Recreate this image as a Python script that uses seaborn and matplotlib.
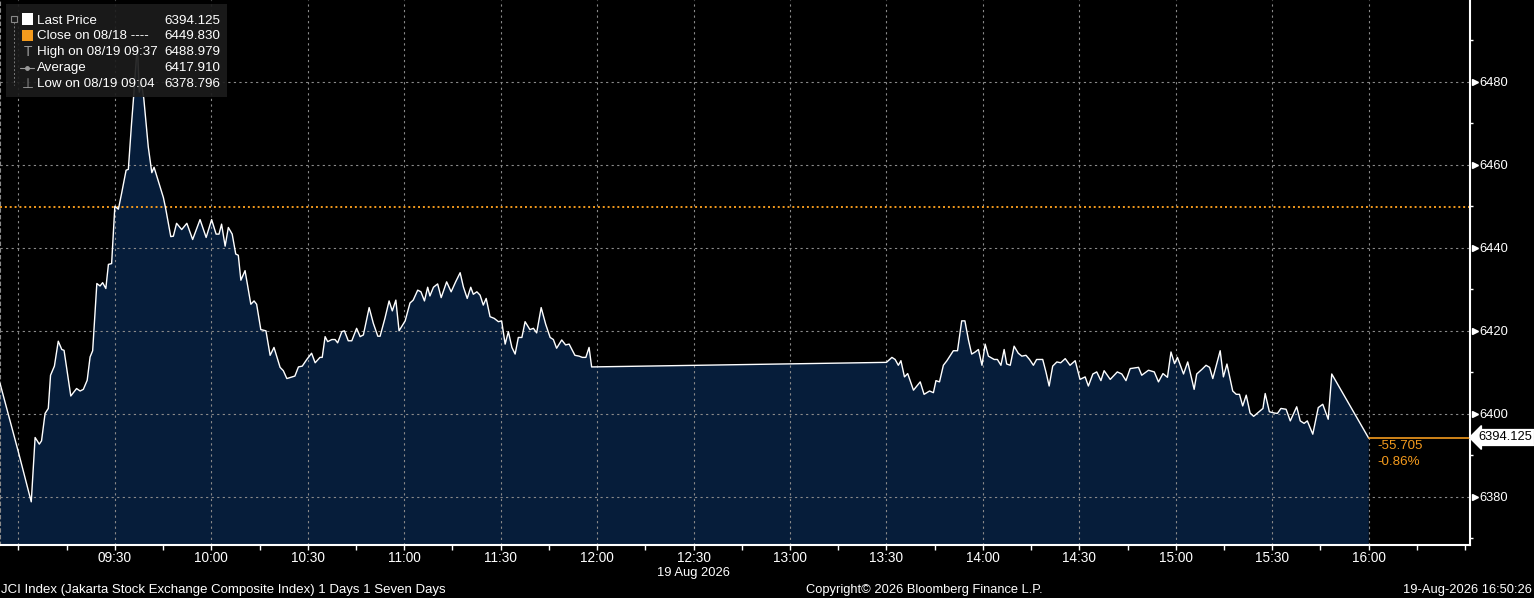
import matplotlib
matplotlib.use("Agg")
import matplotlib.pyplot as plt
import matplotlib.transforms as mtransforms
from matplotlib.ticker import FixedLocator, MultipleLocator, FuncFormatter
import seaborn as sns
import pandas as pd

# ---- data: minutes after 09:00 and last price ----
minutes = [-5.7, 0.0, 4.0, 5.2, 6.5, 7.2, 8.3, 9.3, 10.0, 11.2, 12.4, 13.5, 14.2, 16.3, 18.1,
           19.2, 20.2, 21.4, 22.3, 23.1, 24.4, 25.4, 26.2, 27.2, 28.0, 29.0, 30.0, 31.1, 32.1,
           33.5, 34.2, 35.2, 35.8, 37.0, 37.6, 38.2, 39.0, 40.4, 41.5, 42.2, 45.1, 45.8, 47.4,
           48.2, 49.2, 50.8, 52.4, 54.2, 56.5, 58.4, 60.1, 61.5, 62.4, 63.2, 64.3, 65.3, 66.5,
           67.6, 68.4, 69.2, 70.5, 72.3, 73.3, 74.1, 75.4, 77.0, 78.3, 79.5, 81.4, 82.4, 83.5,
           86.0, 87.1, 88.3, 89.7, 91.2, 92.3, 93.8, 94.5, 95.4, 96.2, 97.5, 98.5, 99.3, 100.6,
           101.4, 102.6, 103.7, 105.2, 106.3, 107.3, 109.1, 110.4, 111.8, 112.5, 114.0, 115.3,
           116.3, 117.4, 118.4, 120.3, 121.8, 122.8, 124.2, 125.2, 126.3, 127.3, 128.0, 129.1,
           130.4, 131.5, 133.2, 134.6, 136.0, 137.4, 138.4, 139.6, 140.7, 141.5, 142.6, 143.6,
           144.6, 145.5, 146.7, 148.0, 149.3, 150.3, 151.4, 152.4, 153.5, 154.5, 155.5, 156.6,
           157.6, 159.1, 160.2, 161.2, 162.6, 164.0, 165.4, 166.4, 167.4, 169.0, 170.2, 171.3,
           173.1, 174.4, 175.4, 176.5, 177.5, 178.3,
           270.0, 271.7, 272.7, 273.7, 274.5, 275.6, 276.6, 278.4, 280.5, 281.7, 283.4, 284.6,
           285.4, 286.5, 287.7, 288.8, 290.8, 292.1, 293.4, 294.4, 295.5, 296.5, 297.6, 298.6,
           299.7, 300.7, 301.7, 303.5, 304.5, 305.6, 306.6, 307.4, 308.5, 309.7, 311.0, 312.1,
           313.4, 314.5, 315.7, 316.7, 318.6, 319.6, 320.6, 321.7, 323.0, 324.2, 325.6, 327.1,
           328.7, 330.2, 331.8, 332.8, 334.2, 335.4, 336.7, 337.7, 339.6, 341.8, 343.2, 344.5,
           345.8, 348.4, 349.4, 351.5, 353.3, 354.6, 356.0, 357.4, 358.5, 359.6, 360.5, 362.4,
           363.7, 365.7, 366.5, 368.1, 369.4, 370.5, 371.5, 373.8, 374.8, 375.9, 377.7, 378.8,
           379.8, 380.8, 381.9, 383.1, 384.2, 386.2, 387.1, 387.8, 389.1, 390.6, 391.6, 392.7,
           394.3, 395.6, 397.6, 398.7, 399.9, 400.9, 402.6, 404.3, 405.7, 407.4, 408.5, 420.0]
prices = [6407.3, 6390.8, 6378.8, 6394.3, 6392.7, 6393.5, 6400.1, 6401.3, 6409.3, 6411.5, 6417.5,
          6415.5, 6415.3, 6404.3, 6406.1, 6405.5, 6405.9, 6408.1, 6413.7, 6415.2, 6431.4, 6430.8,
          6431.6, 6430.2, 6436.0, 6436.2, 6450.0, 6449.3, 6453.1, 6458.7, 6458.9, 6470.0, 6476.0,
          6489.0, 6477.5, 6480.0, 6476.0, 6464.3, 6458.1, 6459.4, 6452.1, 6449.5, 6442.7, 6442.8,
          6445.9, 6444.4, 6445.9, 6442.0, 6446.8, 6442.5, 6446.8, 6443.3, 6443.3, 6445.7, 6440.4,
          6444.9, 6443.3, 6438.5, 6438.2, 6432.2, 6434.5, 6426.4, 6427.2, 6426.4, 6420.3, 6420.0,
          6414.1, 6416.0, 6411.2, 6410.4, 6408.5, 6409.1, 6411.3, 6411.5, 6413.1, 6414.6, 6412.3,
          6413.6, 6413.6, 6418.6, 6417.4, 6417.9, 6417.9, 6417.1, 6419.8, 6420.0, 6417.6, 6417.6,
          6420.6, 6418.6, 6419.0, 6425.6, 6421.8, 6418.7, 6418.7, 6423.0, 6427.2, 6424.8, 6427.4,
          6420.0, 6422.4, 6426.7, 6427.4, 6429.8, 6429.4, 6427.2, 6430.5, 6428.4, 6430.5, 6431.3,
          6428.0, 6431.8, 6429.4, 6431.8, 6434.0, 6430.6, 6427.8, 6430.5, 6428.8, 6429.4, 6428.6,
          6426.2, 6427.8, 6423.4, 6423.0, 6422.2, 6422.4, 6416.8, 6419.8, 6416.0, 6414.4, 6418.4,
          6418.4, 6422.2, 6420.3, 6420.6, 6419.5, 6425.6, 6421.6, 6418.4, 6417.9, 6415.8, 6417.8,
          6416.6, 6416.8, 6414.1, 6413.9, 6413.6, 6413.6, 6416.0, 6411.3,
          6412.4, 6413.6, 6413.1, 6411.7, 6412.8, 6408.9, 6409.7, 6405.7, 6407.7, 6404.7, 6405.5,
          6405.1, 6408.0, 6407.7, 6411.7, 6412.8, 6415.2, 6415.2, 6422.4, 6422.4, 6417.8, 6414.4,
          6414.9, 6415.5, 6411.7, 6416.8, 6413.9, 6413.1, 6413.1, 6411.7, 6415.5, 6412.0, 6411.7,
          6416.3, 6414.6, 6413.9, 6414.1, 6413.1, 6411.7, 6413.1, 6413.1, 6410.1, 6406.7, 6411.5,
          6412.5, 6412.3, 6413.3, 6411.7, 6412.8, 6408.3, 6408.9, 6406.7, 6409.6, 6410.1, 6408.0,
          6410.4, 6408.3, 6410.1, 6409.6, 6408.0, 6410.9, 6411.2, 6409.3, 6410.5, 6410.1, 6407.7,
          6409.7, 6408.8, 6414.9, 6412.1, 6413.6, 6409.6, 6412.5, 6405.9, 6409.6, 6410.7, 6411.7,
          6411.2, 6408.5, 6415.2, 6408.9, 6412.0, 6405.5, 6404.7, 6404.7, 6401.9, 6404.5, 6400.2,
          6399.4, 6400.7, 6401.3, 6404.9, 6400.5, 6400.2, 6400.1, 6401.3, 6401.1, 6398.3, 6401.7,
          6398.3, 6397.7, 6398.3, 6395.1, 6401.5, 6402.3, 6398.7, 6409.6, 6394.125]

prev_close = 6449.830
last_price = 6394.125
net_change = "-55.705"
pct_change = "-0.86%"

x_tick_minutes = [0, 30, 60, 90, 120, 150, 180, 210, 240, 270, 300, 330, 360, 390, 420]
x_tick_labels = ["", "09:30", "10:00", "10:30", "11:00", "11:30", "12:00", "12:30",
                 "13:00", "13:30", "14:00", "14:30", "15:00", "15:30", "16:00"]
y_major = [6380, 6400, 6420, 6440, 6460, 6480]
y_minor = [6370, 6390, 6410, 6430, 6450, 6470, 6490]

legend_names = ["Last Price", "Close on 08/18 ----", "High on 08/19 09:37", "Average",
                "Low on 08/19 09:04"]
legend_values = ["6394.125", "6449.830", "6488.979", "6417.910", "6378.796"]

footer_left = "JCI Index (Jakarta Stock Exchange Composite Index) 1 Days 1 Seven Days"
footer_mid = "Copyright\u00a9 2026 Bloomberg Finance L.P."
footer_right = "19-Aug-2026 16:50:26"
date_label = "19 Aug 2026"

df = pd.DataFrame({"minute": minutes, "price": prices})

# ---- style ----
sns.set_theme(style="dark")
FONT = ["Liberation Sans", "DejaVu Sans"]
plt.rcParams["font.family"] = FONT
plt.rcParams["axes.facecolor"] = "black"
plt.rcParams["figure.facecolor"] = "black"

W, H = 1534, 598
fig = plt.figure(figsize=(W / 100, H / 100), dpi=100)
ax = fig.add_axes([0, (H - 545) / H, 1470 / W, 545 / H])
ax.set_facecolor("black")

FILL = "#061d3a"
ORANGE = "#f39a1d"
GRID = "#8a8a8a"

ax.fill_between(df["minute"], df["price"], 6300, color=FILL, lw=0, zorder=1)
sns.lineplot(data=df, x="minute", y="price", ax=ax, color="white", lw=1.0,
             zorder=3, legend=False)

ax.set_xlim(-5.72, 451.5)
ax.set_ylim(6368.4, 6499.7)

# grid
for m in x_tick_minutes:
    ax.axvline(m, color=GRID, lw=0.8, ls=(0, (2, 3)), zorder=2)
for v in y_major:
    ax.axhline(v, color=GRID, lw=0.8, ls=(0, (2, 3)), zorder=2)
ax.axhline(prev_close, color=ORANGE, lw=1.4, ls=(0, (1, 1.5)), zorder=2)
ax.plot([420, 451.5], [last_price, last_price], color=ORANGE, lw=1.2, zorder=4, clip_on=False)

# spines
ax.spines["top"].set_visible(False)
ax.spines["left"].set_color(GRID)
ax.spines["left"].set_linestyle((0, (3, 3)))
ax.spines["left"].set_linewidth(0.8)
ax.spines["right"].set_color("white")
ax.spines["right"].set_linewidth(1.5)
ax.spines["bottom"].set_color("white")
ax.spines["bottom"].set_linewidth(1.5)

# x ticks
ax.xaxis.set_major_locator(FixedLocator(x_tick_minutes))
ax.xaxis.set_minor_locator(MultipleLocator(15))
ax.set_xticklabels(x_tick_labels)
ax.tick_params(axis="x", which="both", colors="white", direction="out", length=3.5, width=1,
               labelsize=9.8, pad=1, bottom=True)
ax.set_xlabel("")

# y ticks on right
ax.yaxis.tick_right()
ax.yaxis.set_major_locator(FixedLocator(y_major))
ax.yaxis.set_minor_locator(FixedLocator(y_minor))
ax.yaxis.set_major_formatter(FuncFormatter(lambda v, p: f"{v:.0f}"))
ax.tick_params(axis="y", which="major", colors="white", length=0, labelsize=9.3, pad=7,
               right=True, left=False)
ax.tick_params(axis="y", which="minor", colors="white", length=2.5, width=1, right=True,
               left=False, direction="out")
ax.set_ylabel("")
trans = mtransforms.blended_transform_factory(ax.transAxes, ax.transData)
ax.plot([1.0035] * len(y_major), y_major, ls="none", marker=">", ms=5, color="white",
        transform=trans, clip_on=False, zorder=5)

# last price tag and change annotations
fig.text(1478 / W, 1 - 437.5 / H, f"{last_price:.3f}", color="black", fontsize=9.3,
         va="center", ha="left",
         bbox=dict(boxstyle="larrow,pad=0.15", fc="white", ec="white"))
fig.text(1377 / W, 1 - 446 / H, net_change, color=ORANGE, fontsize=9.6, va="center", ha="left")
fig.text(1377 / W, 1 - 462 / H, pct_change, color=ORANGE, fontsize=9.6, va="center", ha="left")

# legend box
fig.patches.append(plt.Rectangle((6 / W, 1 - 97 / H), 221 / W, 93 / H,
                                 transform=fig.transFigure, fc="#1c1c1c", ec="none",
                                 alpha=0.92, zorder=10))
rows_y = [20.5, 36, 52, 68, 84]
for i, (nm, val) in enumerate(zip(legend_names, legend_values)):
    yy = 1 - rows_y[i] / H
    fig.text(37 / W, yy, nm, color="white", fontsize=9.6, va="center", ha="left", zorder=11)
    fig.text(220 / W, yy, val, color="white", fontsize=9.6, va="center", ha="right", zorder=11)
fig.patches.append(plt.Rectangle((22 / W, 1 - 25 / H), 11 / W, 11.5 / H,
                                 transform=fig.transFigure, fc="white", ec="none", zorder=11))
fig.patches.append(plt.Rectangle((22 / W, 1 - 41 / H), 11 / W, 11 / H,
                                 transform=fig.transFigure, fc=ORANGE, ec="none", zorder=11))
fig.text(28 / W, 1 - 52 / H, "T", color="#9a9a9a", fontsize=10, va="center", ha="center",
         zorder=11)
fig.lines.append(plt.Line2D([20 / W, 34 / W], [1 - 68 / H, 1 - 68 / H], color="#9a9a9a",
                            lw=0.8, transform=fig.transFigure, zorder=11))
fig.lines.append(plt.Line2D([27 / W], [1 - 68 / H], color="#9a9a9a", marker="o", ms=2.5,
                            transform=fig.transFigure, zorder=11))
fig.text(28 / W, 1 - 84 / H, "\u22a5", color="#9a9a9a", fontsize=10,
         family=["DejaVu Sans"], va="center", ha="center", zorder=11)
fig.lines.append(plt.Line2D([14 / W, 14 / W], [1 - 22 / H, 1 - 85 / H], color="#777777",
                            lw=0.7, ls=(0, (2, 2)), transform=fig.transFigure, zorder=11))
fig.patches.append(plt.Rectangle((11 / W, 1 - 22 / H), 6 / W, 6 / H,
                                 transform=fig.transFigure, fc="#1c1c1c", ec="#888888", lw=0.8,
                                 zorder=12))

# footer texts
fig.text(693 / W, 1 - 573 / H, date_label, color="white", fontsize=9.3, va="center", ha="center")
fig.text(1 / W, 1 - 590 / H, footer_left, color="white", fontsize=9.5, va="center", ha="left")
fig.text(924 / W, 1 - 590 / H, footer_mid, color="white", fontsize=9.3, va="center", ha="center")
fig.text(1532 / W, 1 - 590 / H, footer_right, color="white", fontsize=9.3, va="center",
         ha="right")

fig.savefig("out.png", dpi=100, facecolor="black")
